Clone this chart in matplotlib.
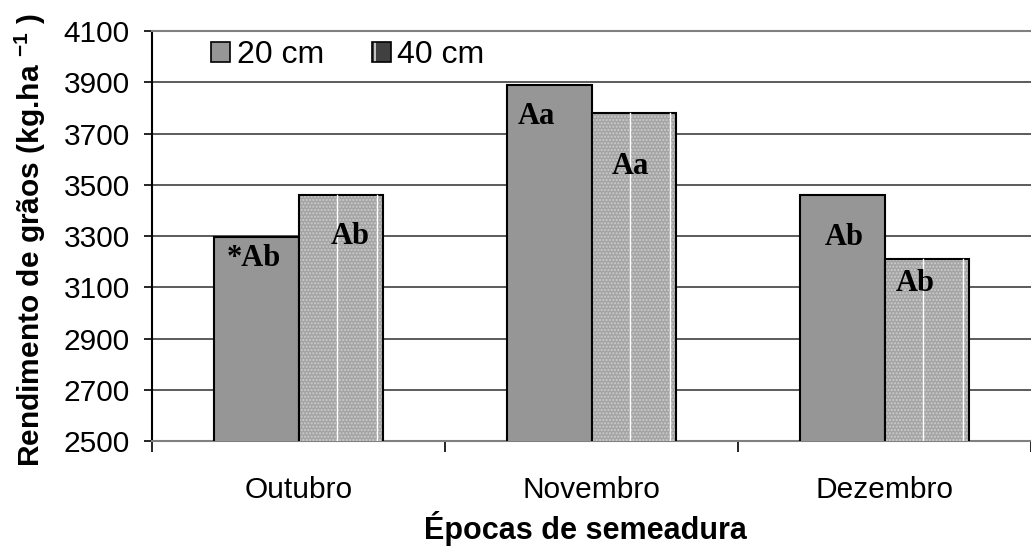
import matplotlib
matplotlib.use("Agg")
import matplotlib.pyplot as plt
from matplotlib.patches import Patch
import numpy as np

plt.rcParams['font.family'] = ['Liberation Sans', 'DejaVu Sans']
plt.rcParams['mathtext.fontset'] = 'custom'
plt.rcParams['mathtext.rm'] = 'Liberation Sans'
plt.rcParams['mathtext.bf'] = 'Liberation Sans:bold'
plt.rcParams['hatch.linewidth'] = 1.0

# ---- data
epocas = ['Outubro', 'Novembro', 'Dezembro']
rend_20cm = [3295, 3890, 3460]
rend_40cm = [3460, 3780, 3210]
letras_20cm = ['*Ab', 'Aa', 'Ab']
letras_40cm = ['Ab', 'Aa', 'Ab']
y_ticks = [2500, 2700, 2900, 3100, 3300, 3500, 3700, 3900, 4100]

# label offsets (pixels) from the top centre of each bar
off_20cm = [(-2, -21), (-13, -32), (2, -42)]
off_40cm = [(9, -41), (-4, -53), (-12, -24)]

W, H = 1031, 555
fig = plt.figure(figsize=(W / 100, H / 100), dpi=100)
ax = fig.add_axes([152 / W, 1 - 441 / H, 1 - 152 / W, (441 - 31) / H])

x = np.arange(len(epocas))
w = 0.29
b1 = ax.bar(x - w / 2, rend_20cm, w, color='#969696',
            edgecolor='black', linewidth=1.5, zorder=3)
b2 = ax.bar(x + w / 2, rend_40cm, w, color='#a4a4a4', hatch='.....',
            edgecolor='black', linewidth=1.5, zorder=3)
for p in b2:
    p._hatch_color = (0.80, 0.80, 0.80, 1.0)
    # white stripes of the Excel pattern
    x0, wd, h = p.get_x(), p.get_width(), p.get_height()
    for f in (0.45, 0.92):
        ax.plot([x0 + f * wd] * 2, [2500, h], color='white', lw=1, zorder=4)

fs = 21.5
for bars, labs, offs in ((b1, letras_20cm, off_20cm), (b2, letras_40cm, off_40cm)):
    for p, lab, (dx, dy) in zip(bars, labs, offs):
        ax.annotate(lab, (p.get_x() + p.get_width() / 2, p.get_height()),
                    xytext=(dx, dy), textcoords='offset pixels',
                    ha='center', va='center', fontsize=22, fontweight='bold',
                    family='Liberation Serif', zorder=5)

ax.set_ylim(2500, 4100)
ax.set_xlim(-0.5, -0.5 + (W - 152) / 297.5)
ax.set_yticks(y_ticks)
ax.set_xticks(x)
ax.set_xticklabels(epocas)
ax.set_xticks([-0.5, 0.5, 1.5, 2.5], minor=True)
ax.tick_params(axis='x', which='major', length=0, pad=25, labelsize=fs)
ax.tick_params(axis='x', which='minor', length=8, width=1.2, direction='out')
ax.tick_params(axis='y', length=6, width=1.2, pad=10, labelsize=fs)

ax.yaxis.grid(True, color='#404040', linewidth=1.2, zorder=0)
ax.set_axisbelow(True)
ax.spines['right'].set_visible(False)
ax.spines['top'].set_color('#808080')
ax.spines['top'].set_linewidth(1.5)
ax.spines['left'].set_linewidth(1.5)
ax.spines['bottom'].set_color('#808080')
ax.spines['bottom'].set_linewidth(1.5)

fig.text(30 / W, 1 - 240 / H, r'Rendimento de grãos (kg.ha $^{\mathbf{-1}}$ )',
         rotation=90, ha='center', va='center', fontsize=fs, fontweight='bold')
fig.text(585 / W, 1 - 528 / H, 'Épocas de semeadura', ha='center', va='center',
         fontsize=22, fontweight='bold')

h20 = Patch(facecolor='#969696', edgecolor='black', linewidth=1.2)
h40 = Patch(facecolor='#404040', edgecolor='black', linewidth=1.2, hatch='|')
h40._hatch_color = (1, 1, 1, 1)
ax.legend([h20, h40], ['20 cm', '40 cm'], loc='upper left',
          bbox_to_anchor=(211 / W, 1 - 40 / H),
          bbox_transform=fig.transFigure, ncol=2, frameon=False, fontsize=23,
          handlelength=0.6, handleheight=0.6, handletextpad=0.2,
          columnspacing=1.5, borderpad=0, borderaxespad=0)

fig.savefig('out.png', dpi=100)
